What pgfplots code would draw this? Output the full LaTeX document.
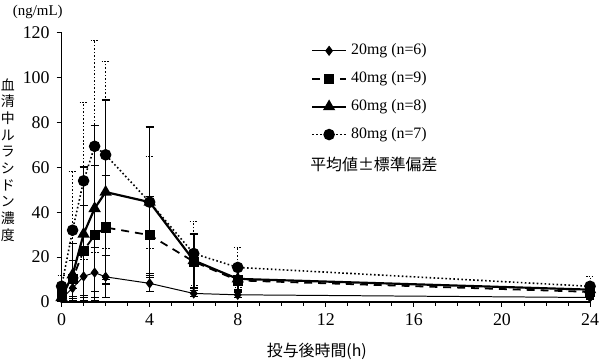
\documentclass[border=0pt]{standalone}
\usepackage{fontspec}
\setmainfont{Liberation Serif}
\newfontfamily\cjk{Noto Sans CJK JP}
\usepackage{pgfplots}
\pgfplotsset{compat=1.18}
\usepackage{pgfplotstable}

% time (h), mean, SD up, SD down (limited at 0)
\pgfplotstableread{
x y ep em
0 1.5 1.0 1.0
0.5 6.2 4.5 4.5
1 11.4 9.5 9.5
1.5 13.1 11 11
2 11.2 9.3 9.3
4 8.3 3.5 3.5
6 3.8 1.5 1.5
8 3.2 1.2 1.2
24 2.0 0.8 0.8
}\tA
\pgfplotstableread{
x y ep em
0 3.5 2.5 2.5
0.5 10.3 8 8
1 22.9 20 20
1.5 29.8 31 29.3
2 33.2 23 23
4 29.8 17 17
6 18 12 12
8 9.6 5 5
24 4.5 3 3
}\tB
\pgfplotstableread{
x y ep em
0 2 1.5 1.5
0.5 12.1 14 11.6
1 30.3 30 29.8
1.5 41.7 37 37
2 49 41 41
4 44.5 33.5 33.5
6 18.5 12 12
8 10.3 5 5
24 5.5 3 3
}\tC
\pgfplotstableread{
x y ep em
0 7 5 5
0.5 32 26 26
1 54 35 35
1.5 69.4 47.2 47.2
2 65.6 41.6 41.6
4 44.5 20.5 20.5
6 21.6 14.4 14.4
8 15.4 9.1 9.1
24 7 4.4 4.4
}\tD

\begin{document}
\begin{tikzpicture}
\useasboundingbox (-31pt,-29.5pt) rectangle (271pt,152pt);
\begin{axis}[
  at={(0,0)}, anchor=south west,
  scale only axis, width=266pt, height=135.5pt,
  xmin=0, xmax=24, ymin=0, ymax=120,
  axis lines=left,
  axis line style={-, line width=0.6pt},
  xtick={0,4,...,24}, ytick={0,20,...,120},
  minor x tick num=3,
  tick align=outside,
  major tick length=2.5pt, minor tick length=2pt,
  tick style={black, line width=0.5pt},
  clip=false,
  ticklabel style={font=\fontsize{9}{10}\selectfont},
  /pgf/number format/assume math mode=true,
  legend style={at={(axis description cs:0.46,0.99)}, anchor=north west,
    draw=none, fill=none, font=\fontsize{8}{9}\selectfont, row sep=3pt},
  legend cell align=left,
]
\addplot[black, line width=0.5pt, mark=diamond*, mark size=2.2pt,
  error bars/.cd, y dir=both, y explicit,
  error bar style={line width=0.5pt, solid},
  error mark options={rotate=90, mark size=2pt, line width=0.5pt, solid}]
  table[x=x, y=y, y error plus=ep, y error minus=em]{\tA};
\addlegendentry{20mg (n=6)}
\addplot[black, line width=0.9pt, dash pattern=on 4pt off 3pt, mark=square*, mark size=2.1pt, mark options={solid},
  error bars/.cd, y dir=both, y explicit,
  error bar style={line width=0.5pt, solid},
  error mark options={rotate=90, mark size=2pt, line width=0.5pt, solid}]
  table[x=x, y=y, y error plus=ep, y error minus=em]{\tB};
\addlegendentry{40mg (n=9)}
\addplot[black, line width=1.1pt, mark=triangle*, mark size=2.5pt, mark options={solid},
  error bars/.cd, y dir=both, y explicit,
  error bar style={line width=0.8pt, solid},
  error mark options={rotate=90, mark size=2pt, line width=0.8pt, solid}]
  table[x=x, y=y, y error plus=ep, y error minus=em]{\tC};
\addlegendentry{60mg (n=8)}
\addplot[black, line width=0.8pt, dash pattern=on 0.8pt off 1.2pt, mark=*, mark size=2.5pt, mark options={solid},
  error bars/.cd, y dir=both, y explicit,
  error bar style={line width=0.5pt, dash pattern=on 0.8pt off 1pt},
  error mark options={rotate=90, mark size=2pt, line width=0.5pt, dash pattern=on 0.8pt off 0.6pt}]
  table[x=x, y=y, y error plus=ep, y error minus=em]{\tD};
\addlegendentry{80mg (n=7)}
\end{axis}
\node[font=\cjk\fontsize{7}{8.4}\selectfont, align=center, inner sep=0pt] at (-27pt,71.5pt)
  {血\\清\\中\\ル\\ラ\\シ\\ド\\ン\\濃\\度};
\node[font=\fontsize{7.5}{9}\selectfont, inner sep=0pt] at (-12pt,146pt) {(ng/mL)};
\node[font=\cjk\fontsize{8}{9}\selectfont, inner sep=0pt] at (128.5pt,-24.8pt) {投与後時間(h)};
\node[font=\cjk\fontsize{8}{9}\selectfont, inner sep=0pt, anchor=west] at (125pt,69pt) {平均値±標準偏差};
\end{tikzpicture}
\end{document}
